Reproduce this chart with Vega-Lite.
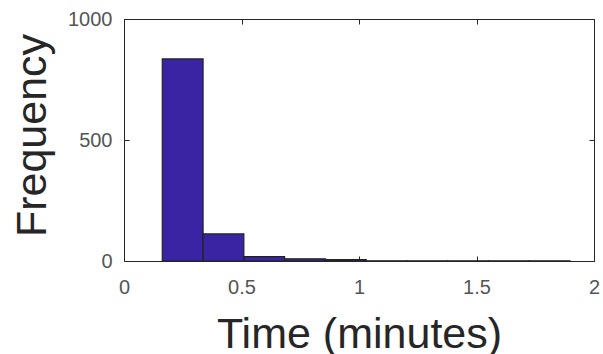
{
  "$schema": "https://vega.github.io/schema/vega-lite/v6.json",
  "width": 470,
  "height": 242,
  "autosize": {"type": "none"},
  "padding": {"left": 124, "top": 19, "right": 9, "bottom": 93},
  "background": "white",
  "config": {
    "view": {"stroke": "#262626", "strokeWidth": 1},
    "axis": {
      "grid": false,
      "labelFont": "Liberation Sans",
      "titleFont": "Liberation Sans",
      "labelColor": "#555555",
      "titleColor": "#262626",
      "domainColor": "#262626",
      "tickColor": "#262626",
      "labelFontSize": 20,
      "titleFontSize": 43,
      "titleFontWeight": "normal"
    }
  },
  "data": {
    "values": [
      {"start": 0.163, "end": 0.3365, "count": 835},
      {"start": 0.3365, "end": 0.51, "count": 112},
      {"start": 0.51, "end": 0.6835, "count": 18},
      {"start": 0.6835, "end": 0.857, "count": 9},
      {"start": 0.857, "end": 1.0305, "count": 6},
      {"start": 1.0305, "end": 1.204, "count": 1},
      {"start": 1.204, "end": 1.3775, "count": 1},
      {"start": 1.3775, "end": 1.551, "count": 1},
      {"start": 1.551, "end": 1.7245, "count": 1},
      {"start": 1.7245, "end": 1.898, "count": 1}
    ]
  },
  "layer": [
    {
      "mark": {"type": "bar", "fill": "#3a24a4", "stroke": "#222222", "strokeWidth": 1.2},
      "encoding": {
        "x": {
          "field": "start", "type": "quantitative",
          "scale": {"domain": [0, 2], "nice": false, "zero": false},
          "axis": {
            "orient": "bottom", "values": [0, 0.5, 1, 1.5, 2], "format": "~g", "tickSize": -5,
            "labelPadding": 21, "labelBaseline": "top",
            "title": "Time (minutes)", "titleBaseline": "alphabetic", "titleY": 86,
            "labelFlush": false, "labelOverlap": false
          }
        },
        "x2": {"field": "end"},
        "y": {
          "field": "count", "type": "quantitative",
          "scale": {"domain": [0, 1000], "nice": false},
          "axis": {
            "orient": "left", "values": [0, 500, 1000], "format": "d", "tickSize": -5,
            "labelPadding": 17,
            "title": "Frequency", "titleAngle": -90, "titleBaseline": "alphabetic",
            "titleAlign": "center", "titleX": -79, "titleY": 116,
            "labelFlush": false, "labelOverlap": false
          }
        },
        "y2": {"datum": 0}
      }
    },
    {
      "mark": {"type": "point", "opacity": 0},
      "encoding": {
        "x": {
          "field": "start", "type": "quantitative",
          "axis": {"orient": "top", "values": [0, 0.5, 1, 1.5, 2], "tickSize": -5, "labels": false, "title": null, "domain": false}
        },
        "y": {
          "field": "count", "type": "quantitative",
          "axis": {"orient": "right", "values": [0, 500, 1000], "tickSize": -5, "labels": false, "title": null, "domain": false}
        }
      }
    }
  ]
}
